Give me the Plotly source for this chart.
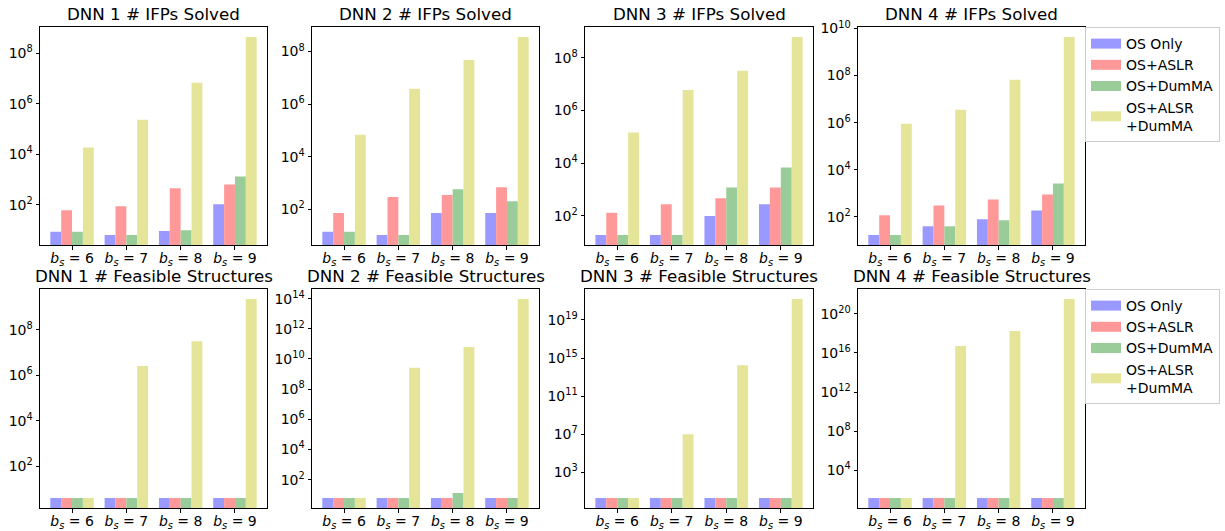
import numpy as np
import plotly.graph_objects as go

# ---------------- data ----------------
categories = ["6", "7", "8", "9"]
series_names = ["OS Only", "OS+ASLR", "OS+DumMA", "OS+ALSR<br>+DumMA"]
colors = ["#9999ff", "#ff9999", "#99cc99", "#e5e599"]

# Top row: # IFPs Solved
ifp_dnn1_os = [8.6, 6.4, 9.2, 107]
ifp_dnn1_aslr = [62, 88, 454, 650]
ifp_dnn1_dumma = [8.6, 6.4, 10, 1350]
ifp_dnn1_both = [1.86e4, 2.34e5, 6.9e6, 4.5e8]

ifp_dnn2_os = [13.8, 10.4, 72, 72]
ifp_dnn2_aslr = [72, 293, 347, 680]
ifp_dnn2_dumma = [13.8, 10.4, 575, 200]
ifp_dnn2_both = [6.9e4, 3.8e6, 4.8e7, 3.6e8]

ifp_dnn3_os = [18.6, 18.6, 98, 276]
ifp_dnn3_aslr = [130, 276, 465, 1200]
ifp_dnn3_dumma = [18.6, 18.6, 1200, 6900]
ifp_dnn3_both = [1.45e5, 6.0e6, 3.2e7, 6.2e8]

ifp_dnn4_os = [16.5, 39, 77, 185]
ifp_dnn4_aslr = [114, 300, 540, 880]
ifp_dnn4_dumma = [16.5, 39, 70, 2600]
ifp_dnn4_both = [8.9e5, 3.5e6, 6.6e7, 4.4e9]

# Bottom row: # Feasible Structures
fs_dnn1_os = [4, 4, 4, 4]
fs_dnn1_aslr = [4, 4, 4, 4]
fs_dnn1_dumma = [4, 4, 4, 4]
fs_dnn1_both = [4, 2.6e6, 3.2e7, 2.3e9]

fs_dnn2_os = [6, 6, 6, 6]
fs_dnn2_aslr = [6, 6, 6, 6]
fs_dnn2_dumma = [6, 6, 13, 6]
fs_dnn2_both = [6, 2.6e9, 6.3e10, 9.5e13]

fs_dnn3_os = [2, 2, 2, 2]
fs_dnn3_aslr = [2, 2, 2, 2]
fs_dnn3_dumma = [2, 2, 2, 2]
fs_dnn3_both = [2, 1.0e7, 1.8e14, 1.6e21]

fs_dnn4_os = [15, 15, 15, 15]
fs_dnn4_aslr = [15, 15, 15, 15]
fs_dnn4_dumma = [15, 15, 15, 15]
fs_dnn4_both = [15, 5.0e16, 1.7e18, 3.2e21]

titles = [
    "DNN 1 # IFPs Solved", "DNN 2 # IFPs Solved", "DNN 3 # IFPs Solved", "DNN 4 # IFPs Solved",
    "DNN 1 # Feasible Structures", "DNN 2 # Feasible Structures",
    "DNN 3 # Feasible Structures", "DNN 4 # Feasible Structures",
]

# y tick exponents per panel
ytick_exp_top = [[2, 4, 6, 8], [2, 4, 6, 8], [2, 4, 6, 8], [2, 4, 6, 8, 10]]
ytick_exp_bottom = [[2, 4, 6, 8], [2, 4, 6, 8, 10, 12, 14],
                    [3, 7, 11, 15, 19], [4, 8, 12, 16, 20]]

panels = [
    [ifp_dnn1_os, ifp_dnn1_aslr, ifp_dnn1_dumma, ifp_dnn1_both],
    [ifp_dnn2_os, ifp_dnn2_aslr, ifp_dnn2_dumma, ifp_dnn2_both],
    [ifp_dnn3_os, ifp_dnn3_aslr, ifp_dnn3_dumma, ifp_dnn3_both],
    [ifp_dnn4_os, ifp_dnn4_aslr, ifp_dnn4_dumma, ifp_dnn4_both],
    [fs_dnn1_os, fs_dnn1_aslr, fs_dnn1_dumma, fs_dnn1_both],
    [fs_dnn2_os, fs_dnn2_aslr, fs_dnn2_dumma, fs_dnn2_both],
    [fs_dnn3_os, fs_dnn3_aslr, fs_dnn3_dumma, fs_dnn3_both],
    [fs_dnn4_os, fs_dnn4_aslr, fs_dnn4_dumma, fs_dnn4_both],
]
ytick_exps = ytick_exp_top + ytick_exp_bottom

# ---------------- layout geometry ----------------
W, H = 1225, 531
col_px = [(40, 267), (312, 539), (585, 813), (858, 1085)]
row_px = [(27, 245), (289, 508)]
FONT = "DejaVu Sans"

tick_labels = [f"<i>b</i><sub><i>s</i></sub> = {c}" for c in categories]

fig = go.Figure()
layout = dict(
    width=W, height=H, margin=dict(l=0, r=0, t=0, b=0, autoexpand=False),
    paper_bgcolor="white", plot_bgcolor="white",
    barmode="group", bargap=0.2, bargroupgap=0.0,
    font=dict(family=FONT, size=14, color="black"),
    showlegend=True,
)
annotations = []

for p, data in enumerate(panels):
    r, c = divmod(p, 4)
    idx = p + 1
    xa = "x" if idx == 1 else f"x{idx}"
    ya = "y" if idx == 1 else f"y{idx}"
    for s, vals in enumerate(data):
        fig.add_trace(go.Bar(
            x=tick_labels, y=vals, name=series_names[s],
            marker=dict(color=colors[s], line=dict(width=0)),
            xaxis=xa, yaxis=ya, showlegend=False, offsetgroup=str(s),
        ))
    allv = np.log10(np.concatenate([np.asarray(v, float) for v in data]))
    lo, hi = allv.min(), allv.max()
    span = hi - lo
    yr = [lo - 0.05 * span, hi + 0.05 * span]

    x0, x1 = col_px[c]
    y0, y1 = row_px[r]
    xdom = [x0 / W, x1 / W]
    ydom = [1 - y1 / H, 1 - y0 / H]
    exps = ytick_exps[p]
    layout["xaxis" if idx == 1 else f"xaxis{idx}"] = dict(
        domain=xdom, anchor=ya, type="category", range=[-0.59, 3.59],
        showline=True, mirror=True, linecolor="black", linewidth=1,
        ticks="outside", ticklen=3.5, tickwidth=0.8, tickcolor="black",
        showgrid=False, zeroline=False, tickfont=dict(size=14, family=FONT),
        fixedrange=True, automargin=False, ticklabelstandoff=-3,
    )
    layout["yaxis" if idx == 1 else f"yaxis{idx}"] = dict(
        domain=ydom, anchor=xa, type="log", range=yr,
        showline=True, mirror=True, linecolor="black", linewidth=1,
        ticks="outside", ticklen=3.5, tickwidth=0.8, tickcolor="black",
        showgrid=False, zeroline=False, tickfont=dict(size=14, family=FONT),
        tickmode="array", tickvals=[10.0 ** e for e in exps],
        ticktext=[f"10<sup>{e}</sup>" for e in exps],
        fixedrange=True, automargin=False,
    )
    annotations.append(dict(
        text=titles[p], x=(xdom[0] + xdom[1]) / 2, y=ydom[1],
        xref="paper", yref="paper", xanchor="center", yanchor="bottom",
        yshift=1, showarrow=False, font=dict(size=16.7, family=FONT, color="black"),
    ))

# legend proxies (one legend per row)
for legname, xa, ya in [("legend", "x", "y"), ("legend2", "x5", "y5")]:
    for s in range(4):
        fig.add_trace(go.Scatter(
            x=[None], y=[None], mode="lines", name=series_names[s],
            line=dict(color=colors[s], width=10),
            xaxis=xa, yaxis=ya, legend=legname, showlegend=True,
        ))

leg_common = dict(
    xanchor="left", yanchor="top", bgcolor="white",
    bordercolor="#cccccc", borderwidth=1,
    font=dict(size=14, family=FONT, color="black"),
    itemwidth=30, tracegroupgap=0,
)
layout["legend"] = dict(x=1085 / W, y=1 - 27 / H, **leg_common)
layout["legend2"] = dict(x=1085 / W, y=1 - 289 / H, **leg_common)
layout["annotations"] = annotations

fig.update_layout(**layout)
fig.write_html(
    "out.html",
    config={"displayModeBar": False},
    post_script="document.body.style.margin='0';document.body.style.overflow='hidden';",
)
